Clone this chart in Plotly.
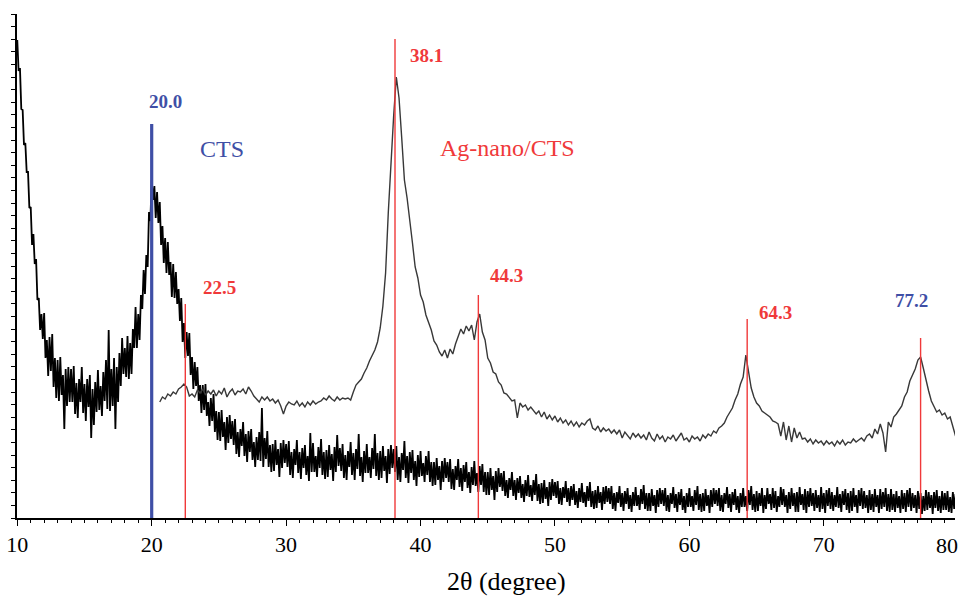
import numpy as np
import plotly.graph_objects as go

# XRD patterns, intensity in arbitrary units (0 = baseline of the frame)
# CTS: one row per degree, 0.1 degree steps from 10.0
cts_start, cts_step = 10.0, 0.1
cts_counts = [
    478, 447, 450, 409, 408, 373, 375, 346, 346, 310,
    311, 273, 284, 254, 259, 218, 220, 188, 204, 179,
    205, 160, 178, 142, 181, 147, 184, 131, 160, 120,
    158, 117, 161, 123, 143, 89, 149, 112, 151, 116,
    149, 116, 152, 104, 135, 100, 139, 116, 151, 105,
    134, 97, 139, 111, 143, 80, 129, 93, 136, 106,
    148, 108, 132, 102, 146, 117, 158, 109, 188, 107,
    149, 112, 160, 89, 151, 116, 165, 132, 180, 144,
    170, 141, 182, 139, 175, 144, 189, 170, 211, 170,
    204, 178, 223, 209, 248, 224, 263, 251, 306, 297,
    338, 318, 332, 300, 326, 295, 316, 273, 292, 255,
    280, 245, 276, 243, 256, 221, 254, 220, 246, 214,
    229, 197, 220, 176, 195, 160, 186, 162, 185, 143,
    161, 129, 156, 132, 151, 117, 133, 105, 133, 108,
    134, 102, 116, 92, 120, 97, 124, 86, 107, 78,
    106, 77, 108, 81, 96, 68, 101, 75, 103, 79,
    97, 73, 99, 64, 86, 61, 89, 72, 96, 62,
    84, 56, 87, 66, 89, 58, 76, 51, 81, 58,
    86, 57, 110, 51, 80, 59, 87, 51, 73, 46,
    74, 47, 78, 53, 69, 41, 75, 50, 78, 55,
    74, 51, 77, 43, 66, 40, 69, 53, 78, 45,
    66, 39, 70, 50, 73, 43, 62, 37, 85, 46,
    75, 46, 62, 41, 71, 50, 79, 43, 66, 39,
    68, 41, 73, 48, 64, 37, 71, 46, 83, 52,
    70, 47, 74, 40, 63, 38, 67, 51, 76, 43,
    65, 38, 69, 49, 84, 42, 61, 36, 67, 45,
    74, 45, 61, 40, 70, 49, 84, 42, 65, 38,
    67, 40, 72, 47, 62, 35, 69, 44, 73, 50,
    69, 46, 72, 38, 61, 36, 65, 48, 77, 40,
    62, 35, 66, 45, 68, 38, 57, 32, 63, 41,
    67, 42, 55, 36, 62, 43, 67, 36, 56, 32,
    56, 33, 60, 38, 52, 28, 57, 36, 60, 40,
    56, 36, 59, 29, 49, 28, 52, 38, 59, 31,
    50, 27, 53, 36, 56, 30, 46, 25, 51, 33,
    57, 32, 45, 26, 52, 33, 54, 26, 46, 23,
    46, 23, 50, 28, 42, 18, 47, 26, 50, 31,
    45, 27, 47, 22, 38, 20, 40, 28, 46, 22,
    38, 18, 40, 25, 42, 20, 34, 16, 38, 22,
    43, 21, 33, 17, 38, 23, 44, 17, 34, 14,
    35, 15, 38, 19, 31, 12, 36, 18, 39, 22,
    36, 20, 37, 14, 30, 13, 31, 20, 37, 16,
    30, 12, 32, 18, 34, 13, 27, 10, 30, 16,
    35, 15, 26, 11, 32, 17, 36, 11, 27, 9,
    28, 10, 32, 15, 26, 8, 31, 14, 32, 16,
    30, 14, 32, 9, 25, 7, 26, 15, 32, 11,
    25, 7, 27, 14, 30, 9, 23, 6, 26, 12,
    31, 12, 23, 8, 29, 14, 33, 9, 25, 7,
    25, 7, 29, 12, 23, 5, 28, 11, 30, 14,
    28, 12, 30, 7, 23, 6, 25, 14, 31, 10,
    24, 6, 26, 13, 29, 8, 22, 5, 25, 11,
    30, 11, 22, 7, 28, 13, 32, 8, 24, 6,
    25, 7, 29, 12, 23, 5, 28, 11, 30, 14,
    28, 12, 30, 7, 23, 6, 25, 14, 31, 10,
    24, 6, 26, 13, 29, 8, 22, 5, 25, 11,
    30, 11, 22, 7, 28, 13, 32, 8, 24, 6,
    27, 7, 25, 12, 30, 5, 23, 9, 30, 14,
    24, 8, 30, 10, 27, 6, 22, 11, 31, 13,
    29, 11, 23, 5, 26, 9, 30, 12, 25, 6,
    26, 6, 31, 13, 24, 8, 29, 5, 27, 11,
    30, 12, 25, 7, 28, 10, 23, 6, 31, 9,
    25, 5, 28, 12, 30, 9, 26, 7, 23, 11,
    31, 10, 24, 6, 27, 13, 29, 8, 25, 5,
    27, 7, 30, 11, 23, 5, 28, 12, 30, 9,
    27, 10, 23, 5, 28, 8, 24, 6, 29, 11,
    23, 5, 29, 9, 26, 11, 30, 7, 24, 6,
    29, 8, 24, 6, 27, 10, 22, 5, 28, 9,
    25, 6, 28, 11, 30, 7, 25, 10, 23, 5,
    27, 9, 25, 4, 22, 7, 28, 8, 26, 10,
    23, 4, 26, 10, 28, 7, 22, 5, 27, 8,
    25, 8, 27, 6, 21, 5, 26, 9, 24,
]

# Ag-nano/CTS: 0.2 degree steps from 20.6
ag_start, ag_step = 20.6, 0.2
ag_counts = [
    116, 121, 119, 124, 122, 126, 124, 129, 131, 134,
    131, 122, 124, 121, 128, 125, 129, 123, 127, 124,
    128, 122, 127, 124, 130, 121, 126, 129, 123, 127,
    126, 129, 124, 131, 127, 122, 119, 116, 121, 118,
    121, 117, 119, 115, 118, 112, 104, 112, 116, 114,
    113, 117, 112, 115, 111, 116, 113, 117, 114, 116,
    117, 120, 118, 122, 119, 117, 121, 118, 120, 119,
    120, 118, 126, 133, 136, 139, 145, 150, 157, 162,
    168, 176, 190, 212, 245, 305, 358, 402, 441, 420,
    380, 338, 320, 294, 275, 251, 240, 223, 216, 203,
    196, 188, 177, 173, 166, 162, 168, 160, 169, 164,
    174, 182, 189, 184, 192, 187, 193, 178, 196, 204,
    186, 178, 160, 155, 146, 144, 136, 133, 125, 124,
    120, 117, 118, 100, 115, 111, 113, 108, 111, 107,
    104, 107, 101, 106, 99, 103, 98, 102, 96, 100,
    95, 98, 93, 97, 92, 96, 91, 95, 93, 97,
    99, 90, 88, 92, 86, 90, 87, 89, 85, 88,
    84, 88, 80, 86, 83, 79, 85, 81, 84, 80,
    83, 78, 86, 80, 77, 84, 79, 82, 76, 81,
    79, 83, 77, 81, 85, 78, 80, 76, 82, 79,
    81, 77, 83, 80, 84, 82, 87, 85, 90, 92,
    95, 101, 106, 110, 118, 124, 134, 141, 163, 148,
    130, 121, 115, 112, 107, 105, 103, 101, 97, 96,
    94, 82, 96, 78, 92, 76, 90, 80, 86, 79,
    80, 76, 79, 74, 78, 75, 77, 73, 77, 74,
    76, 72, 77, 74, 78, 73, 76, 75, 79, 76,
    78, 80, 77, 82, 84, 80, 89, 84, 94, 85,
    66, 96, 91, 101, 104, 108, 112, 121, 126, 137,
    143, 149, 158, 161, 150, 137, 127, 117, 112, 106,
    108, 103, 105, 99, 101, 92, 82,
]

# marked peaks
peak_pos = [20.0, 22.5, 38.1, 44.3, 64.3, 77.2]
peak_top = [394, 214, 479, 223, 199, 180]
peak_labels = ["20.0", "22.5", "38.1", "44.3", "64.3", "77.2"]

x_ticks = [10, 20, 30, 40, 50, 60, 70]

cts_x = np.round(cts_start + cts_step * np.arange(len(cts_counts)), 1)
ag_x = np.round(ag_start + ag_step * np.arange(len(ag_counts)), 1)

BLUE = "#3f4fa6"
RED = "#f0393a"
serif = "Liberation Serif"

line_colors = [BLUE, RED, RED, RED, RED, RED]
line_widths = [3.2, 1.4, 1.4, 1.4, 1.4, 1.4]
label_colors = [BLUE, RED, RED, RED, RED, BLUE]
label_shift = [(14, 23), (34, 17), (31, -16), (28, 20), (28, 7), (-9, 38)]

fig = go.Figure()
fig.add_trace(go.Scatter(x=cts_x, y=cts_counts, mode="lines",
                         line=dict(color="black", width=1.8), showlegend=False))
fig.add_trace(go.Scatter(x=ag_x, y=ag_counts, mode="lines",
                         line=dict(color="#383838", width=1.4), showlegend=False))

for p, top, c, w in zip(peak_pos, peak_top, line_colors, line_widths):
    fig.add_trace(go.Scatter(x=[p, p], y=[0, top], mode="lines",
                             line=dict(color=c, width=w), showlegend=False))

for p, top, txt, c, (dx, dy) in zip(peak_pos, peak_top, peak_labels, label_colors, label_shift):
    fig.add_annotation(x=p, y=top, text=f"<b>{txt}</b>", showarrow=False,
                       xshift=dx, yshift=dy, xanchor="center", yanchor="middle",
                       font=dict(family=serif, size=19, color=c))

fig.add_annotation(x=25.2, y=369, text="CTS", showarrow=False,
                   font=dict(family=serif, size=24, color=BLUE))
fig.add_annotation(x=46.5, y=370, text="Ag-nano/CTS", showarrow=False,
                   font=dict(family=serif, size=24, color=RED))

# x title and the "80" label that sits just past the frame
fig.add_annotation(x=0.522, y=-0.125, xref="paper", yref="paper", text="2θ (degree)",
                   showarrow=False, xanchor="center", yanchor="middle",
                   font=dict(family=serif, size=26, color="black"))
fig.add_annotation(x=0.9915, y=-0.054, xref="paper", yref="paper", text="80",
                   showarrow=False, xanchor="center", yanchor="middle",
                   font=dict(family=serif, size=22, color="black"))

xr = [9.98, 79.76]
yr = [0, 504]
fig.update_layout(
    width=961, height=597,
    margin=dict(l=14, r=6, t=14, b=79),
    paper_bgcolor="white", plot_bgcolor="white",
    xaxis=dict(range=xr, showgrid=False, zeroline=False, showline=True,
               linecolor="black", linewidth=1.8, ticks="outside",
               tickvals=x_ticks, ticklen=6, tickwidth=1.3, tickcolor="black",
               minor=dict(dtick=1, tick0=10, ticks="outside", ticklen=3,
                          tickcolor="black", showgrid=False),
               tickfont=dict(family=serif, size=22, color="black")),
    xaxis2=dict(range=xr, overlaying="x", side="top", anchor="y", showgrid=False,
                zeroline=False, showline=True, linecolor="black", linewidth=1.5,
                ticks="inside", tick0=10, dtick=5, ticklen=5, tickcolor="black",
                showticklabels=False),
    yaxis=dict(range=yr, showgrid=False, zeroline=False, showline=True,
               linecolor="black", linewidth=1.5, ticks="outside", tick0=0,
               dtick=12.6, ticklen=4, tickcolor="black", showticklabels=False),
    yaxis2=dict(range=yr, overlaying="y", side="right", anchor="x", showgrid=False,
                zeroline=False, showline=True, linecolor="#777777", linewidth=1.2,
                ticks="inside", tickvals=[105, 205, 305, 405], ticklen=5,
                tickcolor="#555555", showticklabels=False),
)

# the page's default body margin would shift the figure by 8px
fig.write_html("out.html", config={"displayModeBar": False},
               post_script="document.body.style.margin='0';")
